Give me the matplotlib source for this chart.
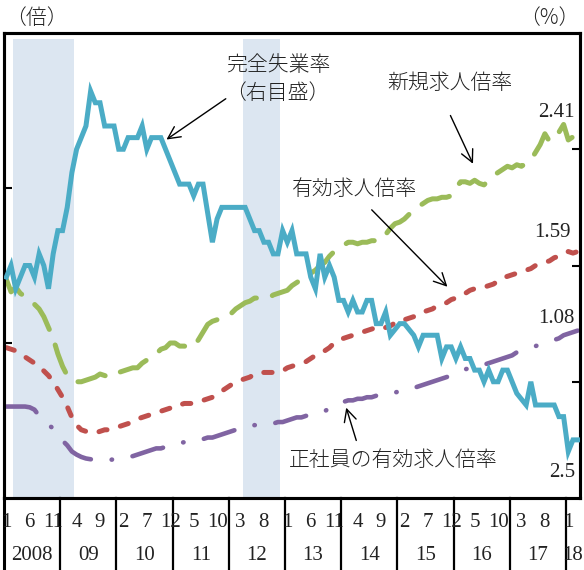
import numpy as np
import matplotlib
matplotlib.use("Agg")
import matplotlib.pyplot as plt

plt.rcParams['font.family'] = ['Noto Sans CJK JP', 'DejaVu Sans']
plt.rcParams['lines.scale_dashes'] = False

# monthly data, Jan 2008 - Mar 2018
unemp = [3.9, 4.0, 3.8, 3.9, 4.0, 4.0, 3.9, 4.1, 4.0, 3.8, 4.1, 4.3,
         4.3, 4.5, 4.8, 5.0, 5.1, 5.2, 5.5, 5.4, 5.4, 5.2, 5.2, 5.2,
         5.0, 5.0, 5.1, 5.1, 5.1, 5.2, 5.0, 5.1, 5.1, 5.1, 5.0, 4.9,
         4.8, 4.7, 4.7, 4.7, 4.6, 4.7, 4.7, 4.45, 4.2, 4.4, 4.5, 4.5,
         4.5, 4.5, 4.5, 4.5, 4.4, 4.3, 4.3, 4.2, 4.2, 4.1, 4.1, 4.3,
         4.2, 4.3, 4.1, 4.1, 4.1, 3.9, 3.8, 4.1, 3.9, 4.0, 3.9, 3.7,
         3.7, 3.6, 3.7, 3.6, 3.6, 3.7, 3.7, 3.5, 3.5, 3.6, 3.4, 3.45,
         3.5, 3.5, 3.45, 3.4, 3.3, 3.4, 3.4, 3.4, 3.4, 3.2, 3.3, 3.3,
         3.2, 3.3, 3.2, 3.2, 3.1, 3.1, 3.0, 3.1, 3.0, 3.0, 3.1, 3.1,
         3.0, 2.9, 2.85, 2.8, 3.0, 2.8, 2.8, 2.8, 2.8, 2.8, 2.7, 2.7,
         2.4, 2.5, 2.5]

new_ratio = [1.41, 1.33, 1.36, 1.32, 1.30, 1.28, 1.25, 1.22, 1.17, 1.10, 1.03, 0.93,
             0.85, 0.79, 0.76, 0.75, 0.75, 0.76, 0.77, 0.78, 0.80, 0.79, 0.78, 0.79,
             0.81, 0.82, 0.83, 0.84, 0.84, 0.87, 0.89, 0.90, 0.93, 0.96, 0.97, 1.00,
             1.00, 0.98, 0.98, 0.97, 0.98, 1.02, 1.07, 1.12, 1.14, 1.15, 1.16, 1.18,
             1.19, 1.22, 1.24, 1.26, 1.27, 1.29, 1.29, 1.29, 1.29, 1.31, 1.32, 1.33,
             1.34, 1.37, 1.39, 1.41, 1.43, 1.45, 1.47, 1.50, 1.52, 1.56, 1.59, 1.61,
             1.63, 1.65, 1.65, 1.64, 1.65, 1.65, 1.66, 1.66, 1.66, 1.70, 1.74, 1.77,
             1.78, 1.80, 1.83, 1.85, 1.88, 1.90, 1.92, 1.93, 1.93, 1.94, 1.94, 1.95,
             2.00, 2.04, 2.04, 2.03, 2.05, 2.03, 2.02, 2.05, 2.08, 2.10, 2.12, 2.14,
             2.13, 2.15, 2.14, 2.16, 2.18, 2.23, 2.28, 2.35, 2.30, 2.33, 2.36, 2.41,
             2.31, 2.33, 2.41]

active_ratio = [0.97, 0.96, 0.95, 0.93, 0.91, 0.89, 0.87, 0.84, 0.82, 0.79, 0.75, 0.70,
                0.65, 0.59, 0.52, 0.47, 0.44, 0.43, 0.42, 0.42, 0.43, 0.44, 0.44, 0.45,
                0.46, 0.47, 0.48, 0.49, 0.51, 0.52, 0.53, 0.54, 0.55, 0.56, 0.57, 0.58,
                0.60, 0.60, 0.61, 0.61, 0.61, 0.62, 0.63, 0.64, 0.65, 0.67, 0.69, 0.71,
                0.73, 0.75, 0.76, 0.77, 0.78, 0.80, 0.80, 0.81, 0.81, 0.81, 0.81, 0.82,
                0.84, 0.85, 0.86, 0.87, 0.88, 0.90, 0.92, 0.93, 0.95, 0.97, 1.00, 1.02,
                1.03, 1.04, 1.05, 1.06, 1.07, 1.08, 1.09, 1.10, 1.09, 1.10, 1.11, 1.13,
                1.15, 1.15, 1.16, 1.17, 1.19, 1.20, 1.21, 1.22, 1.24, 1.25, 1.26, 1.28,
                1.29, 1.31, 1.32, 1.34, 1.35, 1.36, 1.36, 1.37, 1.38, 1.40, 1.42, 1.43,
                1.44, 1.45, 1.46, 1.47, 1.48, 1.50, 1.51, 1.52, 1.53, 1.55, 1.56, 1.58,
                1.59, 1.58, 1.59]

regular_ratio = [0.59, 0.59, 0.59, 0.59, 0.59, 0.585, 0.57, 0.53, 0.50, 0.47, 0.45, 0.41,
                 0.37, 0.34, 0.30, 0.28, 0.265, 0.255, 0.25, 0.245, 0.245, 0.245, 0.245, 0.25,
                 0.25, 0.26, 0.265, 0.27, 0.28, 0.29, 0.30, 0.31, 0.32, 0.32, 0.33, 0.34,
                 0.35, 0.355, 0.36, 0.37, 0.37, 0.38, 0.38, 0.39, 0.39, 0.40, 0.41, 0.42,
                 0.43, 0.44, 0.45, 0.46, 0.46, 0.47, 0.47, 0.48, 0.48, 0.48, 0.49, 0.49,
                 0.50, 0.51, 0.52, 0.52, 0.53, 0.53, 0.54, 0.55, 0.56, 0.58, 0.59, 0.61,
                 0.62, 0.63, 0.63, 0.64, 0.64, 0.65, 0.65, 0.66, 0.67, 0.67, 0.68, 0.68,
                 0.69, 0.70, 0.70, 0.71, 0.72, 0.73, 0.74, 0.75, 0.76, 0.77, 0.78, 0.79,
                 0.80, 0.81, 0.83, 0.84, 0.85, 0.85, 0.86, 0.87, 0.88, 0.89, 0.90, 0.91,
                 0.92, 0.94, 0.95, 0.96, 0.97, 0.98, 0.99, 1.00, 1.01, 1.02, 1.03, 1.05,
                 1.06, 1.07, 1.08]

years = ['2008', '09', '10', '11', '12', '13', '14', '15', '16', '17', '18']
recessions = [(2, 15), (51, 59)]   # month index ranges (shaded)

n = len(unemp)
x = np.arange(n) + 0.5

fig = plt.figure(figsize=(5.84, 5.70), dpi=100)
ax = fig.add_axes([4/584, 72/570, 576/584, 465/570])
ax2 = ax.twinx()

for a, b in recessions:
    ax.axvspan(a, b, ymin=0.002, ymax=0.988, color='#dce6f1', lw=0, zorder=0)

ax.plot(x, new_ratio, color='#9bbb59', lw=3.6, dashes=(21, 12),
        dash_capstyle='round', zorder=3)
ax.plot(x, active_ratio, color='#c0504d', lw=3.6, dashes=(6, 10),
        dash_capstyle='round', zorder=3)
ax.plot(x, regular_ratio, color='#8064a2', lw=3.3, dashes=(23, 15, 0.3, 15),
        dash_capstyle='round', solid_capstyle='round', zorder=3)
ax2.plot(x, unemp, color='#4bacc6', lw=3.6, solid_joinstyle='miter', zorder=4)

ax.set_xlim(0, 123)
ax.set_ylim(0, 3)
ax2.set_ylim(2, 6)
ax.set_yticks([1, 2])
ax2.set_yticks([3, 4, 5])
ax.set_xticks([])
for a in (ax, ax2):
    a.tick_params(axis='y', direction='in', length=6, width=1.5,
                  labelleft=False, labelright=False)
    for s in a.spines.values():
        s.set_linewidth(2.2)

# x axis: month numbers and years under the frame
num_font = dict(family='Liberation Serif', fontsize=15, color='#222222')
trans = ax.get_xaxis_transform()
for i in range(0, n, 5):
    ax.text(i + 0.5, -0.052, str(i % 12 + 1), transform=trans,
            ha='center', va='center', clip_on=False, **num_font)
for k, yr in enumerate(years):
    mid = 12 * k + 6 if k < len(years) - 1 else 121.4
    ax.text(mid, -0.123, yr, transform=trans, ha='center', va='center',
            clip_on=False, **num_font)
for k in range(0, len(years)):
    ax.plot([12 * k, 12 * k], [0, -0.16], transform=trans, color='black',
            lw=1.6 if k else 2.2, clip_on=False)

# end values
ax.text(0.991, 0.830, '2.41', transform=ax.transAxes, ha='right', va='center', **num_font)
ax.text(0.983, 0.572, '1.59', transform=ax.transAxes, ha='right', va='center', **num_font)
ax.text(0.991, 0.387, '1.08', transform=ax.transAxes, ha='right', va='center', **num_font)
ax.text(0.991, 0.054, '2.5', transform=ax.transAxes, ha='right', va='center', **num_font)

# labels with arrows
jp = dict(fontsize=15, color='#222222', fontweight='light')
arrow = dict(arrowstyle='->', lw=1.0, color='black', mutation_scale=22)
ax.text(0.476, 0.931, '完全失業率', transform=ax.transAxes, ha='center', va='center', **jp)
ax.text(0.474, 0.871, '（右目盛）', transform=ax.transAxes, ha='center', va='center', **jp)
ax2.annotate('', xy=(34.2, 5.07), xycoords='data',
             xytext=(0.389, 0.862), textcoords='axes fraction', arrowprops=arrow)

ax.text(0.774, 0.892, '新規求人倍率', transform=ax.transAxes, ha='center', va='center', **jp)
ax.annotate('', xy=(100.4, 2.14), xytext=(0.773, 0.828),
            textcoords='axes fraction', arrowprops=arrow)

ax.text(0.608, 0.665, '有効求人倍率', transform=ax.transAxes, ha='center', va='center', **jp)
ax.annotate('', xy=(95.1, 1.35), xytext=(0.635, 0.624),
            textcoords='axes fraction', arrowprops=arrow)

ax.text(0.675, 0.082, '正社員の有効求人倍率', transform=ax.transAxes, ha='center', va='center', **jp)
ax.annotate('', xy=(72.9, 0.60), xytext=(0.613, 0.118),
            textcoords='axes fraction', arrowprops=arrow)

fig.text(5/584, 1 - 18/570, '（倍）', ha='left', va='center', **jp)
fig.text(579/584, 1 - 18/570, '（%）', ha='right', va='center', **jp)

fig.savefig('out.png', dpi=100)
